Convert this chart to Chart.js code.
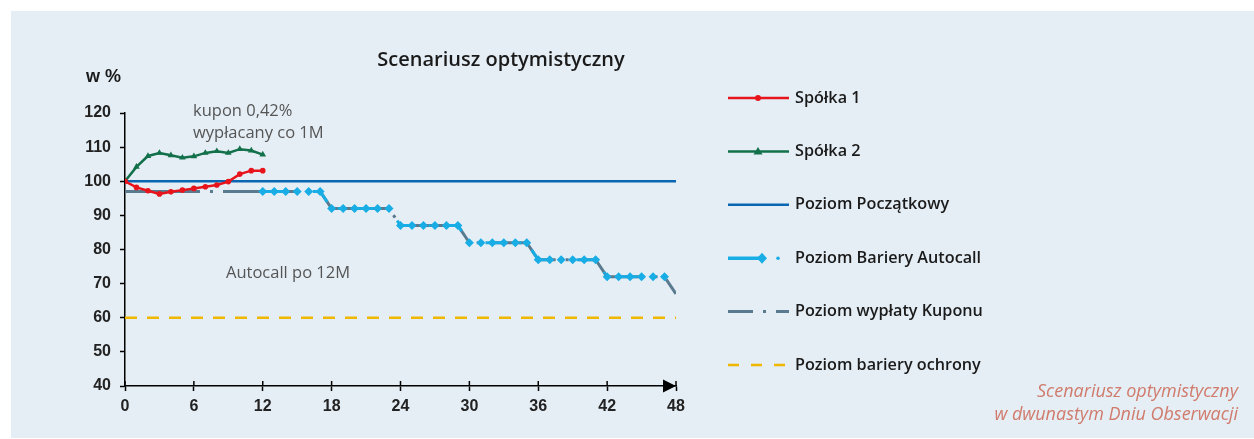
<!DOCTYPE html>
<html>
<head>
<meta charset="utf-8">
<script src="https://cdn.jsdelivr.net/npm/chart.js@4.4.0/dist/chart.umd.min.js"></script>
<style>
  html, body { margin: 0; padding: 0; background: #fff; }
  #wrap { position: relative; width: 1254px; height: 439px; }
</style>
</head>
<body>
<div id="wrap"><canvas id="chart"></canvas></div>
<script>
// months (x) and values in %
const months12 = [0, 1, 2, 3, 4, 5, 6, 7, 8, 9, 10, 11, 12];
const spolka1 = [100, 98.2, 97.2, 96.3, 96.9, 97.4, 97.9, 98.4, 98.9, 99.9, 102.1, 103.1, 103.1];
const spolka2 = [100, 104.2, 107.4, 108.3, 107.6, 106.9, 107.3, 108.3, 108.8, 108.3, 109.4, 109.0, 107.8];

const levelMonths = [0, 48];
const poziomPoczatkowy = [100, 100];
const barieraOchrony = [60, 60];

const autocallMonths = [12, 13, 14, 15, 16, 17, 18, 19, 20, 21, 22, 23, 24, 25, 26, 27, 28, 29,
  30, 31, 32, 33, 34, 35, 36, 37, 38, 39, 40, 41, 42, 43, 44, 45, 46, 47];
const barieraAutocall = [97, 97, 97, 97, 97, 97, 92, 92, 92, 92, 92, 92, 87, 87, 87, 87, 87, 87,
  82, 82, 82, 82, 82, 82, 77, 77, 77, 77, 77, 77, 72, 72, 72, 72, 72, 72];

const kuponMonths = [0, 1, 2, 3, 4, 5, 6, 7, 8, 9, 10, 11, 12, 13, 14, 15, 16, 17, 18, 19, 20, 21, 22, 23, 24,
  25, 26, 27, 28, 29, 30, 31, 32, 33, 34, 35, 36, 37, 38, 39, 40, 41, 42, 43, 44, 45, 46, 47, 48];
const wyplataKuponu = [97, 97, 97, 97, 97, 97, 97, 97, 97, 97, 97, 97, 97, 97, 97, 97, 97, 97,
  92, 92, 92, 92, 92, 92, 87, 87, 87, 87, 87, 87, 82, 82, 82, 82, 82, 82, 77, 77, 77, 77, 77, 77,
  72, 72, 72, 72, 72, 72, 67];

const xTicks = [0, 6, 12, 18, 24, 30, 36, 42, 48];
const yTicks = [40, 50, 60, 70, 80, 90, 100, 110, 120];

const RED = "#e8141c";
const GREEN = "#12704a";
const BLUE = "#0a66b2";
const LIGHTBLUE = "#19ade6";
const SLATE = "#5a7a8f";
const GOLD = "#efb700";

function pts(xs, ys) {
  return xs.map((x, i) => ({ x, y: ys[i] }));
}

const legendItems = [
  { label: "Spółka 1", color: RED, width: 2.5, marker: "circle" },
  { label: "Spółka 2", color: GREEN, width: 2.5, marker: "triangle" },
  { label: "Poziom Początkowy", color: BLUE, width: 2.5 },
  { label: "Poziom Bariery Autocall", color: LIGHTBLUE, width: 3.5, marker: "diamond", dash: "autocall" },
  { label: "Poziom wypłaty Kuponu", color: SLATE, width: 3, dash: [25, 10, 3, 10] },
  { label: "Poziom bariery ochrony", color: GOLD, width: 2.5, dash: [11, 12] },
];

function drawMarker(ctx, type, x, y, color) {
  ctx.save();
  ctx.setLineDash([]);
  ctx.fillStyle = color;
  ctx.beginPath();
  if (type === "circle") {
    ctx.arc(x, y, 3, 0, Math.PI * 2);
  } else if (type === "triangle") {
    ctx.moveTo(x, y - 4.5);
    ctx.lineTo(x + 4.5, y + 3);
    ctx.lineTo(x - 4.5, y + 3);
  } else if (type === "diamond") {
    ctx.moveTo(x, y - 5.5);
    ctx.lineTo(x + 5, y);
    ctx.lineTo(x, y + 5.5);
    ctx.lineTo(x - 5, y);
  }
  ctx.closePath();
  ctx.fill();
  ctx.restore();
}

const decorPlugin = {
  id: "decor",
  beforeDraw(chart) {
    const ctx = chart.ctx;
    ctx.save();
    ctx.fillStyle = "#e5eef5";
    ctx.fillRect(11, 11, chart.width - 11, 427);
    ctx.restore();
  },
  afterDraw(chart) {
    const ctx = chart.ctx;
    const xs = chart.scales.x;
    const ys = chart.scales.y;
    const axisY = ys.getPixelForValue(40);
    ctx.save();

    // x-axis ticks crossing the axis + arrow
    ctx.strokeStyle = "#000";
    ctx.lineWidth = 1.5;
    xTicks.forEach((t) => {
      const px = xs.getPixelForValue(t);
      ctx.beginPath();
      ctx.moveTo(px, axisY - 5);
      ctx.lineTo(px, axisY);
      ctx.stroke();
    });
    const endX = xs.getPixelForValue(48);
    ctx.fillStyle = "#000";
    ctx.beginPath();
    ctx.moveTo(endX, axisY);
    ctx.lineTo(endX - 13, axisY - 6.5);
    ctx.lineTo(endX - 13, axisY + 6.5);
    ctx.closePath();
    ctx.fill();

    // title and axis caption
    ctx.fillStyle = "#1a1a1a";
    ctx.textBaseline = "middle";
    ctx.textAlign = "center";
    ctx.font = "600 20px 'Open Sans'";
    ctx.fillText("Scenariusz optymistyczny", 501, 60);
    ctx.textAlign = "left";
    ctx.font = "bold 18px 'Liberation Sans'";
    ctx.fillText("w %", 86, 77);

    // annotations
    ctx.fillStyle = "#555";
    ctx.font = "16.5px 'Open Sans'";
    ctx.fillText("kupon 0,42%", 193, 111);
    ctx.fillText("wypłacany co 1M", 193, 133);
    ctx.fillText("Autocall po 12M", 226, 273);

    // footer note
    ctx.fillStyle = "#d07b6c";
    ctx.textAlign = "right";
    ctx.font = "italic 18px 'Open Sans'";
    ctx.fillText("Scenariusz optymistyczny", 1238, 392);
    ctx.fillText("w dwunastym Dniu Obserwacji", 1238, 415);

    // legend
    legendItems.forEach((it, i) => {
      const y = 98 + i * 53.4;
      ctx.strokeStyle = it.color;
      ctx.lineWidth = it.width;
      if (it.dash === "autocall") {
        ctx.setLineDash([]);
        ctx.beginPath();
        ctx.moveTo(728, y);
        ctx.lineTo(765, y);
        ctx.stroke();
        drawMarker(ctx, "diamond", 762, y, it.color);
        ctx.fillStyle = it.color;
        ctx.beginPath();
        ctx.arc(778, y, 1.8, 0, Math.PI * 2);
        ctx.fill();
      } else {
        ctx.setLineDash(it.dash || []);
        ctx.beginPath();
        ctx.moveTo(728, y);
        ctx.lineTo(789, y);
        ctx.stroke();
        ctx.setLineDash([]);
        if (it.marker) drawMarker(ctx, it.marker, 758, y, it.color);
      }
      ctx.fillStyle = "#1a1a1a";
      ctx.textAlign = "left";
      ctx.font = "600 16.2px 'Open Sans'";
      ctx.fillText(it.label, 795, y);
    });
    ctx.restore();
  },
};

new Chart(document.getElementById("chart"), {
  type: "line",
  data: {
    datasets: [
      {
        label: "Spółka 1",
        data: pts(months12, spolka1),
        borderColor: RED,
        backgroundColor: RED,
        borderWidth: 2.5,
        pointStyle: "circle",
        pointRadius: 2.8,
        pointBorderWidth: 0,
      },
      {
        label: "Spółka 2",
        data: pts(months12, spolka2),
        borderColor: GREEN,
        backgroundColor: GREEN,
        borderWidth: 2.5,
        pointStyle: "triangle",
        pointRadius: 3.8,
        pointBorderWidth: 0,
      },
      {
        label: "Poziom Początkowy",
        data: pts(levelMonths, poziomPoczatkowy),
        borderColor: BLUE,
        borderWidth: 2.5,
        pointRadius: 0,
      },
      {
        label: "Poziom Bariery Autocall",
        data: pts(autocallMonths, barieraAutocall),
        borderColor: LIGHTBLUE,
        backgroundColor: LIGHTBLUE,
        borderWidth: 3,
        borderDash: [20, 14, 2, 14],
        pointStyle: "rectRot",
        pointRadius: 4.5,
        pointBorderWidth: 0,
      },
      {
        label: "Poziom wypłaty Kuponu",
        data: pts(kuponMonths, wyplataKuponu),
        borderColor: SLATE,
        borderWidth: 3,
        borderDash: [75, 10, 3, 10],
        pointRadius: 0,
      },
      {
        label: "Poziom bariery ochrony",
        data: pts(levelMonths, barieraOchrony),
        borderColor: GOLD,
        borderWidth: 2.5,
        borderDash: [12, 10],
        pointRadius: 0,
      },
    ],
  },
  options: {
    responsive: true,
    maintainAspectRatio: false,
    animation: false,
    layout: { padding: { top: 113, right: 578, bottom: 0, left: 0 } },
    plugins: { legend: { display: false }, tooltip: { enabled: false } },
    elements: { line: { tension: 0 } },
    scales: {
      x: {
        type: "linear",
        min: 0,
        max: 48,
        afterFit: (s) => { s.height = 53; },
        afterBuildTicks: (s) => { s.ticks = xTicks.map((v) => ({ value: v })); },
        border: { display: true, color: "#000", width: 1.5 },
        grid: { drawOnChartArea: false, drawTicks: true, tickLength: 5, tickColor: "#000", tickWidth: 1.5 },
        ticks: { padding: 6, color: "#222", font: { family: "'Liberation Sans'", size: 16, weight: "bold" } },
      },
      y: {
        min: 40,
        max: 120,
        afterFit: (s) => { s.width = 125; },
        afterBuildTicks: (s) => { s.ticks = yTicks.map((v) => ({ value: v })); },
        border: { display: true, color: "#000", width: 1.5 },
        grid: { drawOnChartArea: false, drawTicks: true, tickLength: 5, tickColor: "#000", tickWidth: 1.5 },
        ticks: { padding: 9, color: "#222", font: { family: "'Liberation Sans'", size: 16, weight: "bold" } },
      },
    },
  },
  plugins: [decorPlugin],
});
</script>
</body>
</html>
